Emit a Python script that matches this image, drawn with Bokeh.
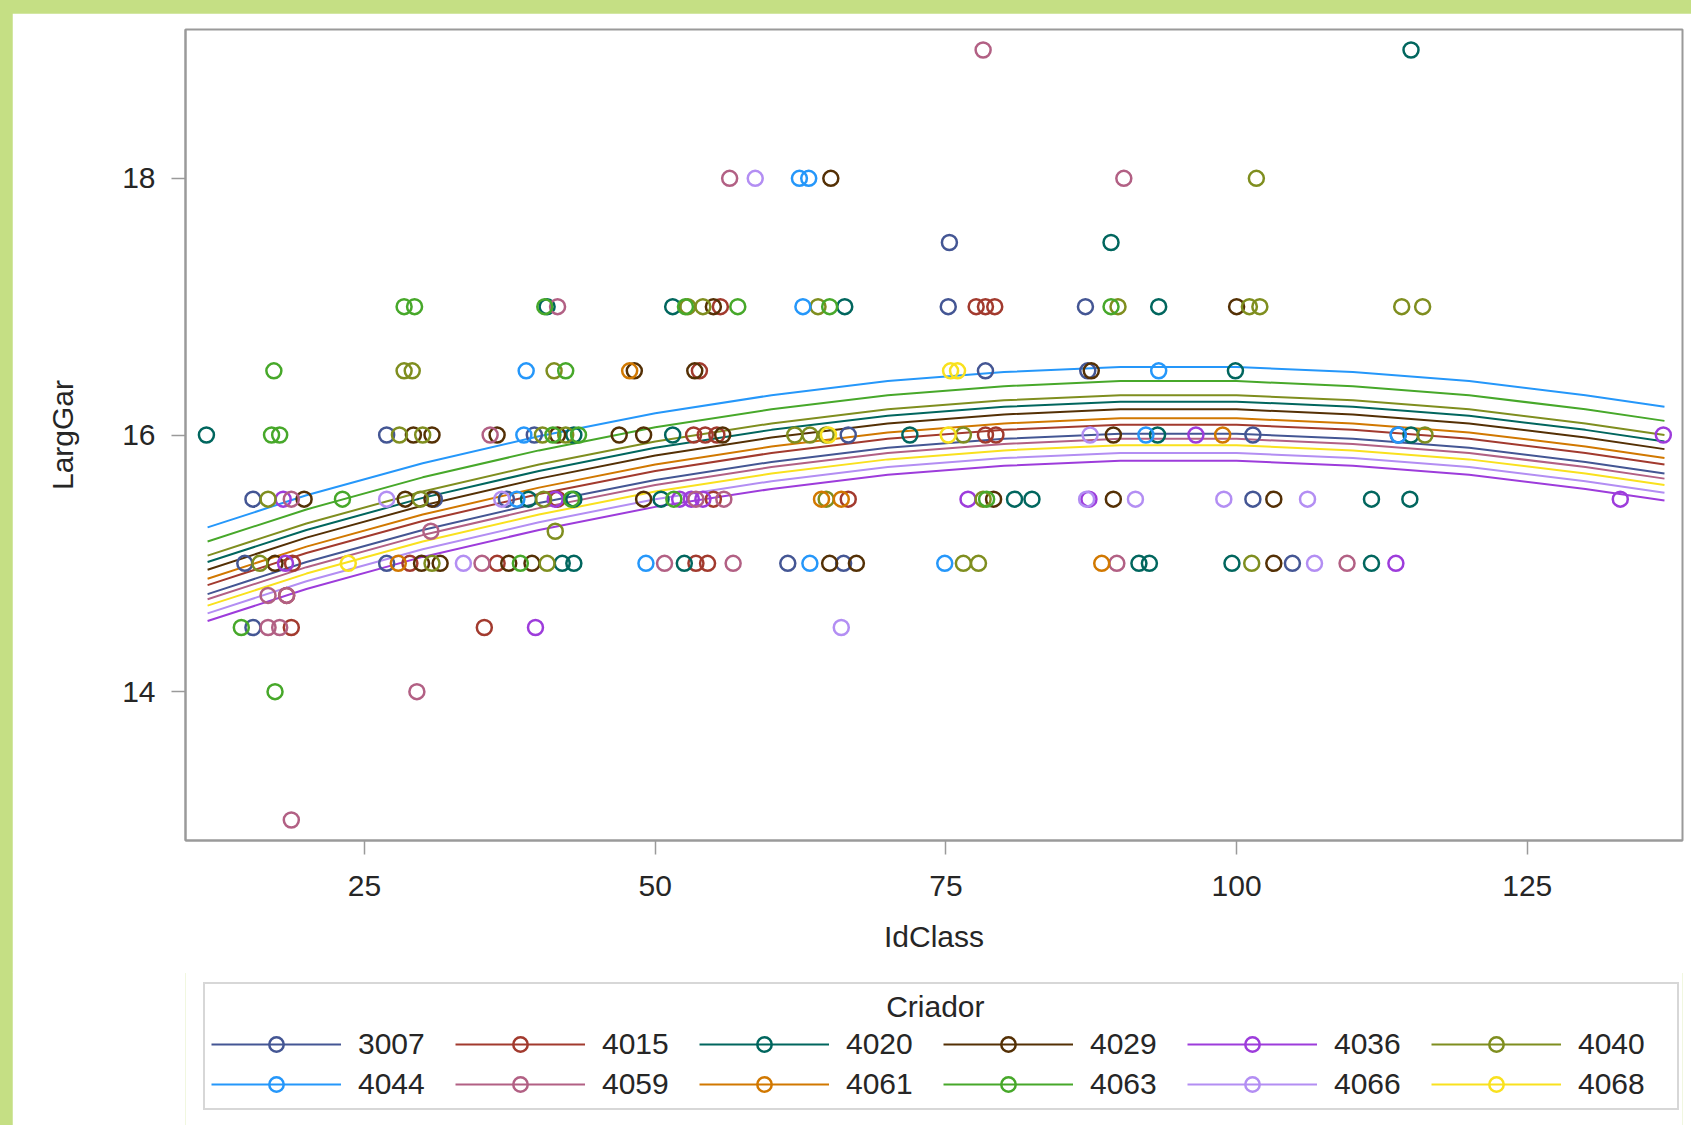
from bokeh.plotting import figure
from bokeh.models import Range1d, FixedTicker, Legend, LegendItem
from bokeh.layouts import column
from bokeh.embed import file_html
from bokeh.resources import INLINE

# ---------------- data ----------------
groups = ["3007", "4015", "4020", "4029", "4036", "4040",
          "4044", "4059", "4061", "4063", "4066", "4068"]
colors = ["#445694", "#A23A2E", "#01665E", "#543005", "#9D3CDB", "#7F8E1F",
          "#2597FA", "#B26084", "#D17800", "#47A82A", "#B38EF3", "#F9E11E"]
legend_title = "Criador"

x_ticks = [25, 50, 75, 100, 125]
y_ticks = [14, 16, 18]

# observed points (IdClass, LargGar) per Criador
x_3007 = [26.9, 39.6, 66.6, 101.4, 113.9, 15.4, 31.0, 37.2, 101.4, 14.7, 26.9, 61.4, 66.2, 104.8, 78.4, 87.2, 75.2, 87.0, 75.3, 15.4]
y_3007 = [16, 16, 16, 16, 16, 15.5, 15.5, 15.5, 15.5, 15, 15, 15, 15, 15, 16.5, 16.5, 17, 17, 17.5, 14.5]
x_4015 = [55.6, 77.6, 78.4, 79.2, 53.8, 53.3, 54.3, 55.3, 78.4, 79.3, 41.6, 55.0, 66.6, 18.8, 28.9, 36.4, 53.5, 54.5, 18.3, 18.7, 35.3]
y_4015 = [17, 17, 17, 17, 16.5, 16, 16, 16, 16, 16, 15.5, 15.5, 15.5, 15, 15, 15, 15, 15, 14.75, 14.5, 14.5]
x_4020 = [115.0, 89.2, 40.7, 51.5, 66.3, 93.3, 99.9, 11.4, 43.0, 51.5, 71.9, 93.2, 115.0, 39.1, 43.0, 50.5, 80.9, 82.4, 111.6, 114.9, 42.0, 43.0, 52.5, 91.6, 92.5, 99.6, 111.6]
y_4020 = [19, 17.5, 17, 17, 17, 17, 16.5, 16, 16, 16, 16, 16, 16, 15.5, 15.5, 15.5, 15.5, 15.5, 15.5, 15.5, 15, 15, 15, 15, 15, 15, 15]
x_4029 = [65.1, 55.0, 100.0, 48.2, 53.4, 87.5, 29.2, 30.8, 36.4, 41.6, 46.9, 49.0, 55.8, 89.4, 19.8, 28.5, 30.8, 49.0, 79.1, 89.4, 103.2, 17.3, 29.9, 31.5, 37.4, 39.4, 65.0, 67.3, 103.2]
y_4029 = [18, 17, 17, 16.5, 16.5, 16.5, 16, 16, 16, 16, 16, 16, 16, 16, 15.5, 15.5, 15.5, 15.5, 15.5, 15.5, 15.5, 15, 15, 15, 15, 15, 15, 15, 15]
x_4036 = [96.5, 136.7, 18.0, 41.4, 52.1, 53.1, 54.1, 76.9, 87.3, 133.0, 18.2, 113.7, 39.7]
y_4036 = [16, 16, 15.5, 15.5, 15.5, 15.5, 15.5, 15.5, 15.5, 15.5, 15, 15, 14.5]
x_4040 = [101.7, 52.8, 54.1, 64.0, 89.8, 101.1, 102.0, 114.2, 116.0, 28.4, 29.1, 41.3, 28.0, 30.0, 40.3, 42.3, 62.0, 63.3, 64.7, 76.5, 116.2, 16.7, 29.8, 40.4, 64.7, 78.2, 41.4, 16.0, 30.8, 40.7, 76.5, 77.8, 101.3]
y_4040 = [18, 17, 17, 17, 17, 17, 17, 17, 17, 16.5, 16.5, 16.5, 16, 16, 16, 16, 16, 16, 16, 16, 16, 15.5, 15.5, 15.5, 15.5, 15.5, 15.25, 15, 15, 15, 15, 15, 15]
x_4044 = [62.4, 63.2, 62.7, 38.9, 93.3, 38.7, 92.2, 113.9, 38.1, 49.2, 63.3, 74.9]
y_4044 = [18, 18, 17, 16.5, 16.5, 16, 16, 16, 15.5, 15, 15, 15]
x_4059 = [78.2, 56.4, 90.3, 41.6, 35.8, 18.7, 53.5, 55.9, 30.7, 35.1, 50.8, 56.7, 89.7, 109.5, 16.7, 18.3, 16.7, 17.7, 29.5, 18.7]
y_4059 = [19, 18, 18, 17, 16, 15.5, 15.5, 15.5, 15.25, 15, 15, 15, 15, 15, 14.75, 14.75, 14.5, 14.5, 14, 13]
x_4061 = [47.8, 98.8, 64.3, 66.0, 27.9, 88.4]
y_4061 = [16.5, 16, 15.5, 15.5, 15, 15]
x_4063 = [28.4, 29.3, 40.5, 52.6, 57.1, 65.0, 89.2, 17.2, 42.3, 17.0, 17.7, 41.2, 43.4, 23.1, 42.8, 51.6, 78.5, 38.4, 14.4, 17.3]
y_4063 = [17, 17, 17, 17, 17, 17, 17, 16.5, 16.5, 16, 16, 16, 16, 15.5, 15.5, 15.5, 15.5, 15, 14.5, 14]
x_4066 = [58.6, 87.4, 26.9, 36.8, 87.1, 91.3, 98.9, 106.1, 33.5, 106.7, 66.0]
y_4066 = [18, 16, 15.5, 15.5, 15.5, 15.5, 15.5, 15.5, 15, 15, 14.5]
x_4068 = [75.4, 76.0, 64.9, 75.2, 23.6]
y_4068 = [16.5, 16.5, 16, 16, 15]

# fitted curves per Criador (values read at fit_x)
fit_x = [11.5, 20, 30, 40, 50, 60, 70, 80, 90, 100, 110, 120, 130, 136.8]
fit_3007 = [14.76, 15.01, 15.26, 15.47, 15.65, 15.79, 15.90, 15.97, 16.01, 16.01, 15.97, 15.90, 15.79, 15.70]
fit_4015 = [14.83, 15.08, 15.33, 15.54, 15.72, 15.86, 15.97, 16.04, 16.08, 16.08, 16.04, 15.97, 15.86, 15.77]
fit_4020 = [15.01, 15.26, 15.51, 15.72, 15.90, 16.04, 16.15, 16.22, 16.26, 16.26, 16.22, 16.15, 16.04, 15.95]
fit_4029 = [14.95, 15.20, 15.45, 15.66, 15.84, 15.98, 16.09, 16.16, 16.20, 16.20, 16.16, 16.09, 15.98, 15.89]
fit_4036 = [14.55, 14.80, 15.05, 15.26, 15.44, 15.58, 15.69, 15.76, 15.80, 15.80, 15.76, 15.69, 15.58, 15.49]
fit_4040 = [15.06, 15.31, 15.56, 15.77, 15.95, 16.09, 16.20, 16.27, 16.31, 16.31, 16.27, 16.20, 16.09, 16.00]
fit_4044 = [15.28, 15.53, 15.78, 15.99, 16.17, 16.31, 16.42, 16.49, 16.53, 16.53, 16.49, 16.42, 16.31, 16.22]
fit_4059 = [14.72, 14.97, 15.22, 15.43, 15.61, 15.75, 15.86, 15.93, 15.97, 15.97, 15.93, 15.86, 15.75, 15.66]
fit_4061 = [14.88, 15.13, 15.38, 15.59, 15.77, 15.91, 16.02, 16.09, 16.13, 16.13, 16.09, 16.02, 15.91, 15.82]
fit_4063 = [15.17, 15.42, 15.67, 15.88, 16.06, 16.20, 16.31, 16.38, 16.42, 16.42, 16.38, 16.31, 16.20, 16.11]
fit_4066 = [14.61, 14.86, 15.11, 15.32, 15.50, 15.64, 15.75, 15.82, 15.86, 15.86, 15.82, 15.75, 15.64, 15.55]
fit_4068 = [14.67, 14.92, 15.17, 15.38, 15.56, 15.70, 15.81, 15.88, 15.92, 15.92, 15.88, 15.81, 15.70, 15.61]

points = {
    "3007": (x_3007, y_3007), "4015": (x_4015, y_4015), "4020": (x_4020, y_4020),
    "4029": (x_4029, y_4029), "4036": (x_4036, y_4036), "4040": (x_4040, y_4040),
    "4044": (x_4044, y_4044), "4059": (x_4059, y_4059), "4061": (x_4061, y_4061),
    "4063": (x_4063, y_4063), "4066": (x_4066, y_4066), "4068": (x_4068, y_4068),
}
fits = {
    "3007": fit_3007, "4015": fit_4015, "4020": fit_4020, "4029": fit_4029,
    "4036": fit_4036, "4040": fit_4040, "4044": fit_4044, "4059": fit_4059,
    "4061": fit_4061, "4063": fit_4063, "4066": fit_4066, "4068": fit_4068,
}

# ---------------- main plot ----------------
FONT = "Liberation Sans"
TXT = "#262626"
FS = "30px"
GREEN = "#C5DF84"

p = figure(width=1679, height=960, output_backend="svg", toolbar_location=None,
           x_range=Range1d(9.6, 138.35), y_range=Range1d(12.84, 19.16),
           min_border_left=173, min_border_right=9, min_border_top=16,
           min_border_bottom=133, x_axis_label="IdClass", y_axis_label="LargGar")
p.margin = (13, 0, 0, 12)
p.background_fill_color = "white"
p.border_fill_color = "white"
p.outline_line_color = "#9a9a9a"
p.outline_line_width = 2
p.xgrid.visible = False
p.ygrid.visible = False

for ax in (p.xaxis[0], p.yaxis[0]):
    ax.axis_line_color = "#9a9a9a"
    ax.axis_line_width = 2
    ax.major_tick_line_color = "#9a9a9a"
    ax.major_tick_line_width = 1.5
    ax.major_tick_in = 0
    ax.major_tick_out = 14
    ax.minor_tick_line_color = None
    ax.major_label_text_font = FONT
    ax.major_label_text_font_size = FS
    ax.major_label_text_color = TXT
    ax.axis_label_text_font = FONT
    ax.axis_label_text_font_size = FS
    ax.axis_label_text_font_style = "normal"
    ax.axis_label_text_color = TXT

p.xaxis[0].ticker = FixedTicker(ticks=x_ticks)
p.yaxis[0].ticker = FixedTicker(ticks=y_ticks)
p.xaxis[0].major_label_standoff = 21
p.xaxis[0].axis_label_standoff = 21
p.yaxis[0].major_label_standoff = 16
p.yaxis[0].axis_label_standoff = 40

for g, c in zip(groups, colors):
    p.line(fit_x, fits[g], line_color=c, line_width=2)
for g, c in zip(groups, colors):
    xs, ys = points[g]
    p.scatter(xs, ys, marker="circle", size=15, fill_color=None,
              line_color=c, line_width=2.5)

# ---------------- legend strip (its own canvas under the plot) ----------------
lg = figure(width=1679, height=153, output_backend="svg", toolbar_location=None,
            x_axis_type=None, y_axis_type=None,
            x_range=Range1d(0, 1), y_range=Range1d(0, 1),
            min_border_left=0, min_border_right=0, min_border_top=0, min_border_bottom=0)
lg.margin = (-1, 0, 0, 12)
lg.outline_line_color = None
lg.background_fill_color = "white"
lg.border_fill_color = "white"
lg.xgrid.visible = False
lg.ygrid.visible = False

items = []
for g, c in zip(groups, colors):
    xs, ys = points[g]
    # same series drawn on the legend canvas; they fall outside its view,
    # only their legend glyphs are visible
    lr = lg.line(fit_x, fits[g], line_color=c, line_width=2)
    sr = lg.scatter(xs, ys, marker="circle", size=15, fill_color=None,
                    line_color=c, line_width=2.5)
    items.append(LegendItem(label=g, renderers=[lr, sr]))

NBSP = "\u00a0"
legend = Legend(items=items, orientation="horizontal", ncols=6,
                location=(18, 15.5), title=NBSP * 81 + legend_title,
                title_text_font=FONT, title_text_font_size=FS, title_text_color=TXT,
                title_text_font_style="normal", title_standoff=2,
                label_text_font=FONT, label_text_font_size=FS, label_text_color=TXT,
                glyph_width=130, glyph_height=36, label_standoff=17, label_width=93,
                spacing=4, padding=6, margin=0,
                border_line_color="#b0b0b0", border_line_width=2,
                background_fill_color="white", background_fill_alpha=1.0)
lg.add_layout(legend, "center")

layout = column(p, lg, spacing=0, styles={"background-color": GREEN})

open("out.html", "w").write(file_html(layout, INLINE))
